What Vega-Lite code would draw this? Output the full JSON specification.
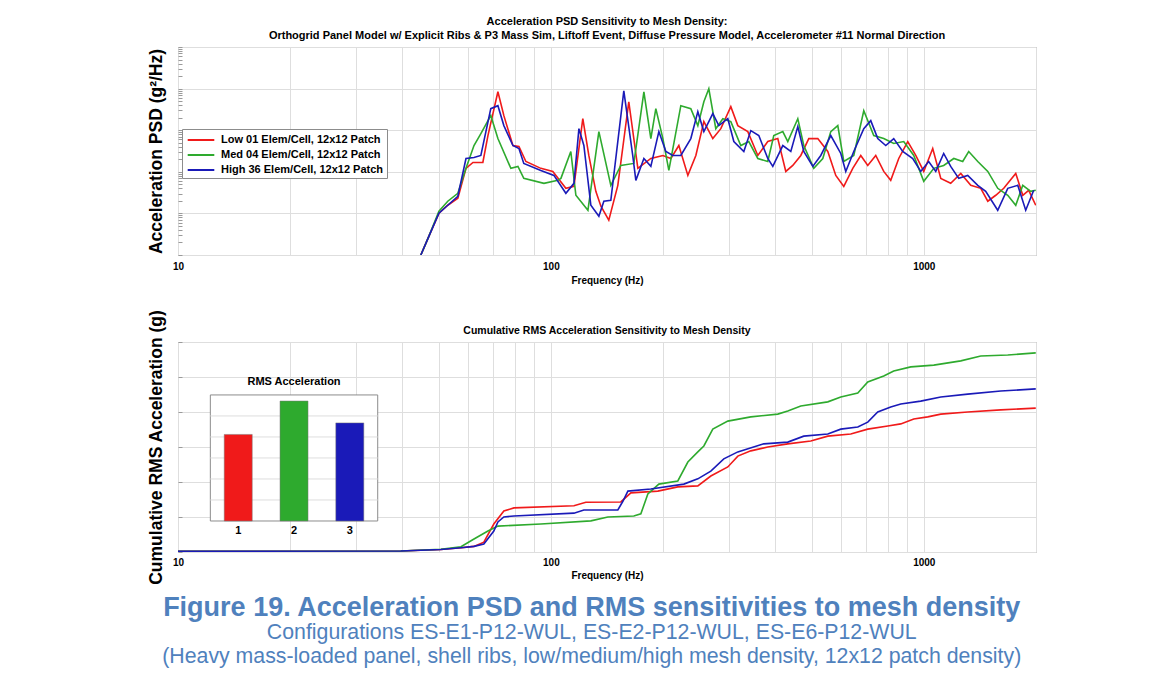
{
  "$schema": "https://vega.github.io/schema/vega-lite/v6.json",
  "background": "white",
  "padding": {"left": 146, "top": 15, "right": 5, "bottom": 5},
  "bounds": "flush",
  "config": {
    "font": "Liberation Sans",
    "view": {"stroke": "#8c8c8c", "strokeWidth": 1},
    "axis": {"gridColor": "#dedede", "gridWidth": 1, "domain": false, "labelColor": "black", "titleColor": "black", "tickColor": "#9a9a9a"}
  },
  "datasets": {
    "psd": [
      {"s":"Low","f":44.8,"p":0.00001},{"s":"Low","f":47.1,"p":0.0000285},{"s":"Low","f":50.1,"p":0.000101},{"s":"Low","f":52.9,"p":0.000157},{"s":"Low","f":56.3,"p":0.000231},{"s":"Low","f":59.2,"p":0.00121},{"s":"Low","f":61.8,"p":0.00168},{"s":"Low","f":65.7,"p":0.00168},{"s":"Low","f":67.8,"p":0.00743},{"s":"Low","f":72.1,"p":0.0838},{"s":"Low","f":74.8,"p":0.0224},{"s":"Low","f":79.1,"p":0.00428},{"s":"Low","f":82.1,"p":0.00405},{"s":"Low","f":85.7,"p":0.00177},{"s":"Low","f":94.0,"p":0.00121},{"s":"Low","f":101.2,"p":0.00102},{"s":"Low","f":109.7,"p":0.000401},{"s":"Low","f":115.3,"p":0.000447},{"s":"Low","f":121.8,"p":0.0189},{"s":"Low","f":126.4,"p":0.00247},{"s":"Low","f":132.0,"p":0.00034},{"s":"Low","f":136.2,"p":0.000149},{"s":"Low","f":143.0,"p":0.0000688},{"s":"Low","f":151.2,"p":0.000473},{"s":"Low","f":161.8,"p":0.0483},{"s":"Low","f":171.1,"p":0.00121},{"s":"Low","f":185.4,"p":0.00209},{"s":"Low","f":199.7,"p":0.00247},{"s":"Low","f":209.8,"p":0.00209},{"s":"Low","f":220.4,"p":0.00428},{"s":"Low","f":233.0,"p":0.00082},{"s":"Low","f":244.8,"p":0.00247},{"s":"Low","f":257.2,"p":0.0161},{"s":"Low","f":271.8,"p":0.00629},{"s":"Low","f":285.6,"p":0.0109},{"s":"Low","f":303.8,"p":0.0367},{"s":"Low","f":317.2,"p":0.0129},{"s":"Low","f":337.4,"p":0.00926},{"s":"Low","f":358.9,"p":0.00247},{"s":"Low","f":381.7,"p":0.00534},{"s":"Low","f":406.0,"p":0.00629},{"s":"Low","f":426.6,"p":0.00102},{"s":"Low","f":445.4,"p":0.00142},{"s":"Low","f":468.0,"p":0.00247},{"s":"Low","f":491.7,"p":0.00629},{"s":"Low","f":519.8,"p":0.00629},{"s":"Low","f":552.9,"p":0.00308},{"s":"Low","f":580.9,"p":0.00082},{"s":"Low","f":610.3,"p":0.000447},{"s":"Low","f":645.1,"p":0.00121},{"s":"Low","f":677.8,"p":0.00247},{"s":"Low","f":707.7,"p":0.00142},{"s":"Low","f":743.5,"p":0.00247},{"s":"Low","f":781.1,"p":0.00102},{"s":"Low","f":815.6,"p":0.000623},{"s":"Low","f":856.9,"p":0.00209},{"s":"Low","f":905.9,"p":0.00534},{"s":"Low","f":951.8,"p":0.00247},{"s":"Low","f":1000,"p":0.00102},{"s":"Low","f":1057,"p":0.00363},{"s":"Low","f":1111,"p":0.000695},{"s":"Low","f":1181,"p":0.000528},{"s":"Low","f":1257,"p":0.000916},{"s":"Low","f":1337,"p":0.000473},{"s":"Low","f":1422,"p":0.000401},{"s":"Low","f":1485,"p":0.000196},{"s":"Low","f":1560,"p":0.000273},{"s":"Low","f":1639,"p":0.000401},{"s":"Low","f":1765,"p":0.000916},{"s":"Low","f":1843,"p":0.000273},{"s":"Low","f":1912,"p":0.000359},{"s":"Low","f":1997,"p":0.000157},
      {"s":"Med","f":44.8,"p":0.00001},{"s":"Med","f":47.1,"p":0.0000285},{"s":"Med","f":50.1,"p":0.000113},{"s":"Med","f":52.9,"p":0.000196},{"s":"Med","f":56.3,"p":0.000304},{"s":"Med","f":59.2,"p":0.00121},{"s":"Med","f":62.2,"p":0.00428},{"s":"Med","f":64.9,"p":0.00829},{"s":"Med","f":69.0,"p":0.0224},{"s":"Med","f":72.1,"p":0.00629},{"s":"Med","f":78.1,"p":0.00121},{"s":"Med","f":81.6,"p":0.00135},{"s":"Med","f":84.6,"p":0.000695},{"s":"Med","f":95.8,"p":0.000528},{"s":"Med","f":104.4,"p":0.000623},{"s":"Med","f":106.4,"p":0.000695},{"s":"Med","f":113.1,"p":0.00308},{"s":"Med","f":116.7,"p":0.000273},{"s":"Med","f":125.7,"p":0.000119},{"s":"Med","f":134.5,"p":0.00926},{"s":"Med","f":144.8,"p":0.000473},{"s":"Med","f":154.0,"p":0.00142},{"s":"Med","f":166.9,"p":0.00159},{"s":"Med","f":177.6,"p":0.0838},{"s":"Med","f":185.4,"p":0.00629},{"s":"Med","f":191.2,"p":0.0329},{"s":"Med","f":199.7,"p":0.00629},{"s":"Med","f":207.2,"p":0.00108},{"s":"Med","f":223.1,"p":0.0388},{"s":"Med","f":237.3,"p":0.0329},{"s":"Med","f":247.8,"p":0.0129},{"s":"Med","f":257.2,"p":0.0483},{"s":"Med","f":265.2,"p":0.0989},{"s":"Med","f":276.9,"p":0.0109},{"s":"Med","f":289.2,"p":0.0189},{"s":"Med","f":303.8,"p":0.0161},{"s":"Med","f":323.1,"p":0.00428},{"s":"Med","f":339.5,"p":0.00534},{"s":"Med","f":358.9,"p":0.00209},{"s":"Med","f":381.7,"p":0.00177},{"s":"Med","f":396.1,"p":0.00743},{"s":"Med","f":418.8,"p":0.00926},{"s":"Med","f":431.9,"p":0.00534},{"s":"Med","f":459.4,"p":0.0189},{"s":"Med","f":476.7,"p":0.00428},{"s":"Med","f":507.1,"p":0.00121},{"s":"Med","f":536.1,"p":0.00209},{"s":"Med","f":563.2,"p":0.00926},{"s":"Med","f":588.1,"p":0.0129},{"s":"Med","f":610.3,"p":0.00177},{"s":"Med","f":649.1,"p":0.00247},{"s":"Med","f":690.5,"p":0.0294},{"s":"Med","f":734.4,"p":0.00743},{"s":"Med","f":781.1,"p":0.00629},{"s":"Med","f":830.8,"p":0.00478},{"s":"Med","f":883.8,"p":0.00534},{"s":"Med","f":940.1,"p":0.00247},{"s":"Med","f":1000,"p":0.000589},{"s":"Med","f":1064,"p":0.00121},{"s":"Med","f":1131,"p":0.00142},{"s":"Med","f":1204,"p":0.00209},{"s":"Med","f":1272,"p":0.00177},{"s":"Med","f":1320,"p":0.00308},{"s":"Med","f":1396,"p":0.00177},{"s":"Med","f":1485,"p":0.00102},{"s":"Med","f":1579,"p":0.000401},{"s":"Med","f":1680,"p":0.000273},{"s":"Med","f":1765,"p":0.000157},{"s":"Med","f":1843,"p":0.000473},{"s":"Med","f":1936,"p":0.00034},{"s":"Med","f":1997,"p":0.000359},
      {"s":"High","f":44.8,"p":0.00001},{"s":"High","f":47.1,"p":0.0000285},{"s":"High","f":50.1,"p":0.000101},{"s":"High","f":52.9,"p":0.000157},{"s":"High","f":56.3,"p":0.000258},{"s":"High","f":59.2,"p":0.00209},{"s":"High","f":62.2,"p":0.00221},{"s":"High","f":64.9,"p":0.00247},{"s":"High","f":69.0,"p":0.0329},{"s":"High","f":72.1,"p":0.0388},{"s":"High","f":74.8,"p":0.0129},{"s":"High","f":79.1,"p":0.00428},{"s":"High","f":82.1,"p":0.00363},{"s":"High","f":84.6,"p":0.00159},{"s":"High","f":94.0,"p":0.00108},{"s":"High","f":101.9,"p":0.00082},{"s":"High","f":109.7,"p":0.000304},{"s":"High","f":115.3,"p":0.000528},{"s":"High","f":118.9,"p":0.0109},{"s":"High","f":122.6,"p":0.00428},{"s":"High","f":128.0,"p":0.000157},{"s":"High","f":134.5,"p":0.0000857},{"s":"High","f":138.7,"p":0.000196},{"s":"High","f":144.8,"p":0.000207},{"s":"High","f":156.9,"p":0.0886},{"s":"High","f":165.9,"p":0.00234},{"s":"High","f":169.0,"p":0.000623},{"s":"High","f":177.6,"p":0.00209},{"s":"High","f":185.4,"p":0.00135},{"s":"High","f":194.8,"p":0.00926},{"s":"High","f":203.4,"p":0.00308},{"s":"High","f":212.4,"p":0.00247},{"s":"High","f":223.1,"p":0.00247},{"s":"High","f":237.3,"p":0.00629},{"s":"High","f":247.8,"p":0.0279},{"s":"High","f":257.2,"p":0.00926},{"s":"High","f":271.8,"p":0.025},{"s":"High","f":282.1,"p":0.0129},{"s":"High","f":298.2,"p":0.0189},{"s":"High","f":309.5,"p":0.00534},{"s":"High","f":329.2,"p":0.00308},{"s":"High","f":343.7,"p":0.00978},{"s":"High","f":361.1,"p":0.00743},{"s":"High","f":381.7,"p":0.00209},{"s":"High","f":393.7,"p":0.00135},{"s":"High","f":418.8,"p":0.00428},{"s":"High","f":440.0,"p":0.00308},{"s":"High","f":459.4,"p":0.0122},{"s":"High","f":476.7,"p":0.00308},{"s":"High","f":504.0,"p":0.00135},{"s":"High","f":529.5,"p":0.00247},{"s":"High","f":563.2,"p":0.00743},{"s":"High","f":599.1,"p":0.00276},{"s":"High","f":617.8,"p":0.00102},{"s":"High","f":649.1,"p":0.00308},{"s":"High","f":690.5,"p":0.0109},{"s":"High","f":720.9,"p":0.017},{"s":"High","f":752.7,"p":0.00629},{"s":"High","f":790.8,"p":0.00428},{"s":"High","f":830.8,"p":0.00629},{"s":"High","f":878.3,"p":0.00308},{"s":"High","f":934.3,"p":0.00209},{"s":"High","f":981.6,"p":0.00102},{"s":"High","f":1031,"p":0.00177},{"s":"High","f":1077,"p":0.00102},{"s":"High","f":1131,"p":0.00276},{"s":"High","f":1181,"p":0.00135},{"s":"High","f":1241,"p":0.000695},{"s":"High","f":1312,"p":0.00082},{"s":"High","f":1396,"p":0.000473},{"s":"High","f":1466,"p":0.00034},{"s":"High","f":1579,"p":0.000119},{"s":"High","f":1680,"p":0.000401},{"s":"High","f":1787,"p":0.000473},{"s":"High","f":1877,"p":0.000119},{"s":"High","f":1972,"p":0.000359}
    ],
    "cum": [
      {"s":"Low","f":10,"r":0.02},{"s":"Low","f":39.6,"r":0.03},{"s":"Low","f":50.7,"r":0.07},{"s":"Low","f":57.4,"r":0.12},{"s":"Low","f":62.2,"r":0.16},{"s":"Low","f":66.1,"r":0.28},{"s":"Low","f":70.3,"r":0.8},{"s":"Low","f":74.8,"r":1.17},{"s":"Low","f":79.6,"r":1.26},{"s":"Low","f":115.3,"r":1.32},{"s":"Low","f":124.1,"r":1.42},{"s":"Low","f":154.0,"r":1.43},{"s":"Low","f":163.9,"r":1.69},{"s":"Low","f":193.6,"r":1.74},{"s":"Low","f":219.0,"r":1.86},{"s":"Low","f":247.8,"r":1.89},{"s":"Low","f":268.5,"r":2.17},{"s":"Low","f":298.2,"r":2.43},{"s":"Low","f":317.2,"r":2.74},{"s":"Low","f":343.7,"r":2.89},{"s":"Low","f":381.7,"r":3.0},{"s":"Low","f":431.9,"r":3.09},{"s":"Low","f":497.8,"r":3.17},{"s":"Low","f":552.9,"r":3.31},{"s":"Low","f":637.2,"r":3.37},{"s":"Low","f":707.7,"r":3.51},{"s":"Low","f":800.7,"r":3.6},{"s":"Low","f":867.6,"r":3.66},{"s":"Low","f":940.1,"r":3.8},{"s":"Low","f":1025,"r":3.86},{"s":"Low","f":1111,"r":3.94},{"s":"Low","f":1312,"r":4.0},{"s":"Low","f":1609,"r":4.06},{"s":"Low","f":1997,"r":4.11},
      {"s":"Med","f":10,"r":0.02},{"s":"Med","f":39.6,"r":0.03},{"s":"Med","f":50.7,"r":0.08},{"s":"Med","f":57.4,"r":0.15},{"s":"Med","f":62.2,"r":0.37},{"s":"Med","f":67.8,"r":0.6},{"s":"Med","f":72.1,"r":0.74},{"s":"Med","f":94.0,"r":0.8},{"s":"Med","f":128.0,"r":0.89},{"s":"Med","f":142.2,"r":1.0},{"s":"Med","f":166.9,"r":1.03},{"s":"Med","f":174.3,"r":1.09},{"s":"Med","f":182.0,"r":1.66},{"s":"Med","f":194.8,"r":1.94},{"s":"Med","f":219.0,"r":2.03},{"s":"Med","f":233.0,"r":2.57},{"s":"Med","f":247.8,"r":2.86},{"s":"Med","f":257.2,"r":3.03},{"s":"Med","f":271.8,"r":3.51},{"s":"Med","f":298.2,"r":3.74},{"s":"Med","f":343.7,"r":3.86},{"s":"Med","f":406.0,"r":3.94},{"s":"Med","f":431.9,"r":4.03},{"s":"Med","f":468.0,"r":4.17},{"s":"Med","f":552.9,"r":4.29},{"s":"Med","f":599.1,"r":4.43},{"s":"Med","f":665.4,"r":4.54},{"s":"Med","f":707.7,"r":4.86},{"s":"Med","f":781.1,"r":5.03},{"s":"Med","f":830.8,"r":5.17},{"s":"Med","f":923.0,"r":5.29},{"s":"Med","f":1064,"r":5.34},{"s":"Med","f":1257,"r":5.46},{"s":"Med","f":1422,"r":5.6},{"s":"Med","f":1680,"r":5.63},{"s":"Med","f":1997,"r":5.69},
      {"s":"High","f":10,"r":0.02},{"s":"High","f":39.6,"r":0.03},{"s":"High","f":50.7,"r":0.07},{"s":"High","f":57.4,"r":0.12},{"s":"High","f":62.2,"r":0.16},{"s":"High","f":66.1,"r":0.23},{"s":"High","f":70.3,"r":0.6},{"s":"High","f":72.1,"r":0.86},{"s":"High","f":74.8,"r":1.0},{"s":"High","f":79.6,"r":1.03},{"s":"High","f":115.3,"r":1.11},{"s":"High","f":122.6,"r":1.2},{"s":"High","f":151.2,"r":1.2},{"s":"High","f":156.0,"r":1.45},{"s":"High","f":160.9,"r":1.74},{"s":"High","f":185.4,"r":1.8},{"s":"High","f":227.3,"r":1.94},{"s":"High","f":247.8,"r":2.09},{"s":"High","f":268.5,"r":2.31},{"s":"High","f":290.9,"r":2.66},{"s":"High","f":317.2,"r":2.86},{"s":"High","f":372.4,"r":3.09},{"s":"High","f":431.9,"r":3.14},{"s":"High","f":476.7,"r":3.31},{"s":"High","f":552.9,"r":3.37},{"s":"High","f":599.1,"r":3.51},{"s":"High","f":665.4,"r":3.57},{"s":"High","f":707.7,"r":3.71},{"s":"High","f":752.7,"r":4.0},{"s":"High","f":815.6,"r":4.14},{"s":"High","f":867.6,"r":4.23},{"s":"High","f":981.6,"r":4.31},{"s":"High","f":1111,"r":4.43},{"s":"High","f":1312,"r":4.51},{"s":"High","f":1609,"r":4.6},{"s":"High","f":1997,"r":4.66}
    ],
    "bars": [
      {"k":1,"s":"Low","rms":4.12},{"k":2,"s":"Med","rms":5.71},{"k":3,"s":"High","rms":4.67}
    ]
  },
  "title": {
    "text": "Figure 19. Acceleration PSD and RMS sensitivities to mesh density",
    "subtitle": ["Configurations ES-E1-P12-WUL, ES-E2-P12-WUL, ES-E6-P12-WUL", "(Heavy mass-loaded panel, shell ribs, low/medium/high mesh density, 12x12 patch density)"],
    "orient": "bottom",
    "anchor": "middle",
    "font": "Liberation Sans",
    "fontSize": 27,
    "fontWeight": "bold",
    "color": "#4f81bd",
    "subtitleFont": "Liberation Sans",
    "subtitleFontSize": 21.3,
    "subtitleFontWeight": "normal",
    "subtitleColor": "#4f81bd",
    "subtitleLineHeight": 24,
    "subtitlePadding": 0,
    "offset": 10
  },
  "spacing": 87,
  "resolve": {"scale": {"color": "independent"}, "legend": {"color": "independent"}},
  "vconcat": [
    {
      "width": 858,
      "height": 208,
      "title": {
        "text": ["Acceleration PSD Sensitivity to Mesh Density:", "Orthogrid Panel Model w/ Explicit Ribs & P3 Mass Sim, Liftoff Event, Diffuse Pressure Model, Accelerometer #11 Normal Direction"],
        "font": "Liberation Sans", "fontSize": 11, "fontWeight": "bold", "color": "black", "lineHeight": 14, "offset": 6, "anchor": "middle", "frame": "group"
      },
      "data": {"name": "psd"},
      "mark": {"type": "line", "strokeWidth": 1.6, "clip": true},
      "encoding": {
        "x": {
          "field": "f", "type": "quantitative",
          "scale": {"type": "log", "domain": [10, 2000], "nice": false},
          "axis": {
            "values": [10,20,30,40,50,60,70,80,90,100,200,300,400,500,600,700,800,900,1000,2000],
            "labelExpr": "indexof([10,100,1000], datum.value) >= 0 ? format(datum.value, 'd') : ''",
            "labelOverlap": false, "labelFlush": false,
            "labelFont": "Liberation Sans", "labelFontWeight": "bold", "labelFontSize": 10, "labelPadding": 6,
            "ticks": false,
            "title": "Frequency (Hz)", "titleFont": "Liberation Sans", "titleFontSize": 10, "titleFontWeight": "bold", "titlePadding": 4,
            "grid": true
          }
        },
        "y": {
          "field": "p", "type": "quantitative",
          "scale": {"type": "log", "domain": [0.00001, 1], "nice": false},
          "axis": {
            "values": [0.00001,0.00002,0.00003,0.00004,0.00005,0.00006,0.00007,0.00008,0.00009,0.0001,0.0002,0.0003,0.0004,0.0005,0.0006,0.0007,0.0008,0.0009,0.001,0.002,0.003,0.004,0.005,0.006,0.007,0.008,0.009,0.01,0.02,0.03,0.04,0.05,0.06,0.07,0.08,0.09,0.1,0.2,0.3,0.4,0.5,0.6,0.7,0.8,0.9,1],
            "labels": false,
            "grid": true,
            "gridOpacity": {"condition": {"test": "abs(log(datum.value)/LN10 - round(log(datum.value)/LN10)) < 0.01", "value": 1}, "value": 0},
            "ticks": true, "tickSize": -4,
            "title": "Acceleration PSD (g²/Hz)", "titleFont": "Liberation Sans", "titleFontSize": 17.5, "titleFontWeight": "bold", "titlePadding": 12
          }
        },
        "color": {
          "field": "s", "type": "nominal",
          "scale": {"domain": ["Low", "Med", "High"], "range": ["#f01a1a", "#2eaa2e", "#1a1ab8"]},
          "legend": {
            "orient": "none", "legendX": 4, "legendY": 82,
            "title": null,
            "fillColor": "white", "strokeColor": "#8c8c8c", "padding": 3,
            "symbolType": "M-1.9,0H1.9", "symbolSize": 196, "symbolStrokeWidth": 2,
            "labelFont": "Liberation Sans", "labelFontWeight": "bold", "labelFontSize": 11, "labelColor": "black", "labelLimit": 400,
            "rowPadding": 2, "labelOffset": 12, "symbolOffset": 8,
            "labelExpr": "datum.label + (datum.label == 'Low' ? ' 01' : datum.label == 'Med' ? ' 04' : ' 36') + ' Elem/Cell, 12x12 Patch'"
          }
        }
      }
    },
    {
      "width": 858,
      "height": 210,
      "title": {
        "text": "Cumulative RMS Acceleration Sensitivity to Mesh Density",
        "font": "Liberation Sans", "fontSize": 10.5, "fontWeight": "bold", "color": "black", "offset": 7, "dy": 34, "anchor": "middle", "frame": "group"
      },
      "resolve": {"scale": {"x": "independent", "y": "independent"}, "axis": {"x": "independent", "y": "independent"}},
      "layer": [
        {
          "data": {"name": "cum"},
          "mark": {"type": "line", "strokeWidth": 1.6, "clip": true},
          "encoding": {
            "x": {
              "field": "f", "type": "quantitative",
              "scale": {"type": "log", "domain": [10, 2000], "nice": false},
              "axis": {
                "values": [10,20,30,40,50,60,70,80,90,100,200,300,400,500,600,700,800,900,1000,2000],
                "labelExpr": "indexof([10,100,1000], datum.value) >= 0 ? format(datum.value, 'd') : ''",
                "labelOverlap": false, "labelFlush": false,
                "labelFont": "Liberation Sans", "labelFontWeight": "bold", "labelFontSize": 10, "labelPadding": 5,
                "ticks": false,
                "title": "Frequency (Hz)", "titleFont": "Liberation Sans", "titleFontSize": 10, "titleFontWeight": "bold", "titlePadding": 3,
                "grid": true
              }
            },
            "y": {
              "field": "r", "type": "quantitative",
              "scale": {"domain": [0, 6], "nice": false},
              "axis": {
                "values": [0,1,2,3,4,5,6],
                "labels": false, "grid": true, "ticks": true, "tickSize": -4,
                "title": "Cumulative RMS Acceleration (g)", "titleFont": "Liberation Sans", "titleFontSize": 17.5, "titleFontWeight": "bold", "titlePadding": 12
              }
            },
            "color": {
              "field": "s", "type": "nominal",
              "scale": {"domain": ["Low", "Med", "High"], "range": ["#f01a1a", "#2eaa2e", "#1a1ab8"]},
              "legend": null
            }
          }
        },
        {
          "layer": [
            {
              "data": {"values": [{"x0": 0.5, "x1": 3.5, "y0": 0, "y1": 6}]},
              "mark": {"type": "rect", "fill": "white", "stroke": "#8c8c8c", "strokeWidth": 1},
              "encoding": {
                "x": {"field": "x0", "type": "quantitative", "scale": {"domain": [0.01, 15.21], "nice": false, "zero": false}, "axis": null},
                "x2": {"field": "x1"},
                "y": {"field": "y0", "type": "quantitative", "scale": {"domain": [-1.476, 8.52], "nice": false, "zero": false}, "axis": null},
                "y2": {"field": "y1"}
              }
            },
            {
              "data": {"values": [{"g": 1}, {"g": 2}, {"g": 3}, {"g": 4}, {"g": 5}]},
              "mark": {"type": "rule", "color": "#dedede", "strokeWidth": 1},
              "encoding": {
                "y": {"field": "g", "type": "quantitative", "axis": null},
                "x": {"datum": 0.5, "type": "quantitative", "axis": null},
                "x2": {"datum": 3.5}
              }
            },
            {
              "data": {"name": "bars"},
              "mark": {"type": "bar", "width": 28, "stroke": "#777777", "strokeWidth": 0.5},
              "encoding": {
                "x": {"field": "k", "type": "quantitative", "axis": null},
                "y": {"field": "rms", "type": "quantitative", "axis": null},
                "color": {"field": "s", "type": "nominal", "legend": null}
              }
            },
            {
              "data": {"name": "bars"},
              "mark": {"type": "text", "font": "Liberation Sans", "fontWeight": "bold", "fontSize": 11, "color": "black", "baseline": "middle"},
              "encoding": {
                "x": {"field": "k", "type": "quantitative", "axis": null},
                "y": {"datum": -0.48, "type": "quantitative", "axis": null},
                "text": {"field": "k"}
              }
            },
            {
              "data": {"values": [{"t": "RMS Acceleration"}]},
              "mark": {"type": "text", "font": "Liberation Sans", "fontWeight": "bold", "fontSize": 11, "color": "black", "baseline": "middle"},
              "encoding": {
                "x": {"datum": 2, "type": "quantitative", "axis": null},
                "y": {"datum": 6.62, "type": "quantitative", "axis": null},
                "text": {"field": "t"}
              }
            }
          ]
        }
      ]
    }
  ]
}
